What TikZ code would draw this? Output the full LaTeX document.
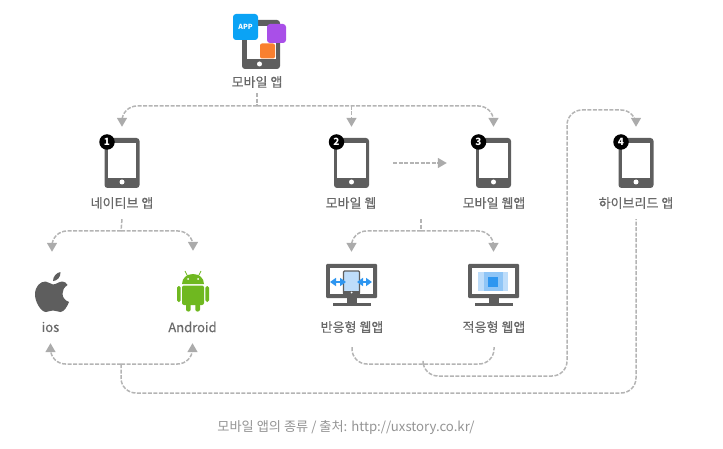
\documentclass[tikz,border=0pt]{standalone}
\usepackage{fontspec}
\setmainfont{Noto Sans CJK KR}
\newfontfamily\lblfont[FakeBold=0.35]{Noto Sans CJK KR}
\usetikzlibrary{arrows.meta}
\definecolor{icongray}{HTML}{5E5E5E}
\definecolor{textgray}{HTML}{696969}
\definecolor{linkgray}{HTML}{B4B4B4}
\definecolor{tipgray}{HTML}{ABABAB}
\definecolor{appblue}{HTML}{0BA3F5}
\definecolor{apppurple}{HTML}{A94FE8}
\definecolor{apporange}{HTML}{F98030}
\definecolor{droidgreen}{HTML}{6FB820}
\definecolor{webblue}{HTML}{2E96F0}
\definecolor{webmid}{HTML}{8FC5F6}
\definecolor{weblight}{HTML}{BEDDFA}
\tikzset{
	lbl/.style={inner sep=0pt,minimum height=32pt,font=\lblfont\fontsize{13}{15}\selectfont,text=textgray},
	stem/.style={draw=linkgray,line width=1.5pt,dash pattern=on 4pt off 1.5pt,rounded corners=15pt},
	link/.style={stem,-{Triangle[width=10pt,length=9pt,color=tipgray,sep=0pt]}},
	phonebody/.style={fill=icongray,rounded corners=3pt,inner sep=0pt,minimum width=35pt,minimum height=50pt},
	phonescreen/.style={fill=white,inner sep=0pt,minimum width=28.5pt,minimum height=35pt},
	phonehome/.style={fill=white,circle,inner sep=0pt,minimum size=5pt},
	badge/.style={fill=black,circle,inner sep=0pt,minimum size=15.5pt,text=white,font=\fontsize{10}{10}\selectfont\bfseries},
	monbody/.style={fill=icongray,rounded corners=1pt,inner sep=0pt,minimum width=51pt,minimum height=34pt},
	monscreen/.style={fill=white,inner sep=0pt,minimum width=43pt,minimum height=26pt},
	block/.style={inner sep=0pt,rounded corners=1pt},
	blank/.style={inner sep=0pt,minimum size=40pt},
	webarrow/.style={webblue,line width=1.6pt,{Triangle[width=8pt,length=6pt]}-{Triangle[width=8pt,length=6pt]}}
}
\begin{document}
\begin{tikzpicture}[x=1pt,y=-1pt]
	\useasboundingbox (0,0) rectangle (723,449);
	% top icon
	\node [fill=icongray,rounded corners=3pt,inner sep=0pt,minimum width=38pt,minimum height=49pt] (mainphone) at (261,44.5) {};
	\node [fill=white,inner sep=0pt,minimum width=29pt,minimum height=33pt] (mainscreen) at (261,43) {};
	\node [phonehome] (mainhome) at (259.5,64) {};
	\node [block,fill=appblue,rounded corners=3pt,minimum width=25pt,minimum height=26pt,text=white,font=\fontsize{7}{7}\selectfont\bfseries] (appbox) at (245.5,27) {APP};
	\node [block,fill=apppurple,rounded corners=3pt,minimum size=19pt] (purplebox) at (276.5,33.5) {};
	\node [block,fill=apporange,rounded corners=2pt,minimum size=15pt] (orangebox) at (267.5,51) {};
	\node [lbl,minimum height=22pt] (lblmain) at (257,82) {모바일 앱};
	% phones
	\foreach \n/\x in {1/122,2/351.5,3/493.5,4/636} {
		\node [phonebody] (phone\n) at (\x,163) {};
		\node [phonescreen] (screen\n) at (\x,160.5) {};
		\node [phonehome] (home\n) at (\x,182) {};
		\node [badge] (badge\n) at (\x-15,142) {\n};
	}
	\node [lbl] (lblnative) at (122,203) {네이티브 앱};
	\node [lbl] (lblmweb) at (351,203) {모바일 웹};
	\node [lbl] (lblwebapp) at (494,203) {모바일 웹앱};
	\node [lbl] (lblhybrid) at (636,203) {하이브리드 앱};
	% apple
	\node [blank] (apple) at (52,292) {};
	\fill [icongray] (53,284.5) .. controls (56,284.5) and (59,281.5) .. (62.5,281.5)
		.. controls (64.5,281.5) and (66.5,283) .. (67.5,285)
		.. controls (64,287.5) and (62.5,290) .. (62.5,293.5)
		.. controls (62.5,297.5) and (65,300.5) .. (69,302)
		.. controls (67.5,306) and (64,312) .. (60.5,312)
		.. controls (57.5,312) and (56.5,310.5) .. (53,310.5)
		.. controls (49.5,310.5) and (48.5,312) .. (46,312)
		.. controls (41,312) and (35,302) .. (35,294.5)
		.. controls (35,286.5) and (40,281.5) .. (45.5,281.5)
		.. controls (48.5,281.5) and (50.5,284.5) .. (53,284.5);
	\fill [icongray] (53,281) .. controls (53,276) and (57,272.5) .. (60.5,272) .. controls (61,277) and (57,281) .. (53,281);
	\node [lbl] (lblios) at (50.5,327) {ios};
	% android
	\node [blank] (droid) at (193,291) {};
	\fill [droidgreen] (182,284) .. controls (182,278) and (187,274) .. (193,274) .. controls (199,274) and (204,278) .. (204,284) -- cycle;
	\draw [droidgreen,line width=0.8pt] (187.5,276) -- (185,271) (198.5,276) -- (201,271);
	\fill [white] (188,279) circle (1) (198,279) circle (1);
	\fill [droidgreen,rounded corners=2pt] (182,285.5) rectangle (204,305);
	\fill [droidgreen,rounded corners=1.7pt] (177,286) rectangle (180.7,302);
	\fill [droidgreen,rounded corners=1.7pt] (205.3,286) rectangle (209,302);
	\fill [droidgreen,rounded corners=2pt] (186,300) rectangle (190.7,311.5);
	\fill [droidgreen,rounded corners=2pt] (195.3,300) rectangle (200,311.5);
	\node [lbl] (lblandroid) at (192.5,327) {Android};
	% monitors
	\foreach \n/\x in {1/351.5,2/493.5} {
		\node [monbody] (mon\n) at (\x,281) {};
		\node [monscreen] (monscreen\n) at (\x,281) {};
		\fill [icongray] (\x-5,298) rectangle (\x+5,303);
		\fill [icongray] (\x-19,302.5) rectangle (\x+19,305.5);
	}
	\node [block,fill=weblight,draw=icongray,line width=1.3pt,minimum width=16pt,minimum height=23pt] (innerphone) at (351.5,282.5) {};
	\fill [icongray] (343,290.5) rectangle (360,295);
	\fill [white] (351.5,292.5) circle (1);
	\draw [webarrow] (330,282) -- (346,282);
	\draw [webarrow] (357,282) -- (372,282);
	\node [block,rounded corners=0pt,fill=weblight,minimum width=30pt,minimum height=19pt] (outerblock) at (493,281.5) {};
	\node [block,rounded corners=0pt,fill=webmid,minimum width=19pt,minimum height=19pt] (midblock) at (493,281.5) {};
	\node [block,rounded corners=0pt,fill=webblue,minimum width=10pt,minimum height=10pt] (innerblock) at (493,282) {};
	\node [lbl] (lblresp) at (352,327) {반응형 웹앱};
	\node [lbl] (lbladapt) at (494,327) {적응형 웹앱};
	% connectors
	\coordinate (hubmain) at (257,106);
	\coordinate (hubnative) at (121,231);
	\coordinate (hubweb) at (421,231);
	\coordinate (hubos) at (121,364);
	\coordinate (hubwebapp) at (423,364);
	\coordinate (lowhybrid) at (636,393);
	\coordinate (lowwebapp) at (567,376);
	\coordinate (topwebapp) at (567,110);
	\coordinate (topphone) at (636,110);
	\draw [stem] (lblmain.south) -- (hubmain);
	\draw [link,shorten >=11pt] (hubmain) -| (phone1.north);
	\draw [link,shorten >=11pt] (hubmain -| phone2.north) -- (phone2.north);
	\draw [link,shorten >=11pt] (hubmain) -| (phone3.north);
	\draw [link,shorten <=24pt,shorten >=29pt] (phone2.east) -- (phone3.west);
	\draw [stem] (lblnative.south) -- (hubnative);
	\draw [link,shorten >=20pt] (hubnative) -| (apple.north);
	\draw [link,shorten >=20pt] (hubnative) -| (droid.north);
	\draw [stem] (lblwebapp.south -| hubweb) -- (hubweb);
	\draw [link,shorten >=12pt] (hubweb) -| (mon1.north);
	\draw [link,shorten >=12pt] (hubweb) -| (mon2.north);
	\draw [link] (hubos) -| (lblios.south);
	\draw [link] (hubos) -| (lblandroid.south);
	\draw [stem] (hubos) |- (lowhybrid) -- (lblhybrid.south);
	\draw [stem,shorten <=4pt,shorten >=4pt] (lblresp.south) |- (hubwebapp) -| (lbladapt.south);
	\draw [link,shorten >=11pt] (hubwebapp) |- (lowwebapp) -- (topwebapp) -- (topphone) -- (phone4.north);
	% caption
	\node [inner sep=0pt,font=\fontsize{13.2}{15}\selectfont,text=black!42] (caption) at (346,428) {모바일 앱의 종류 / 출처: http://uxstory.co.kr/};
\end{tikzpicture}
\end{document}
